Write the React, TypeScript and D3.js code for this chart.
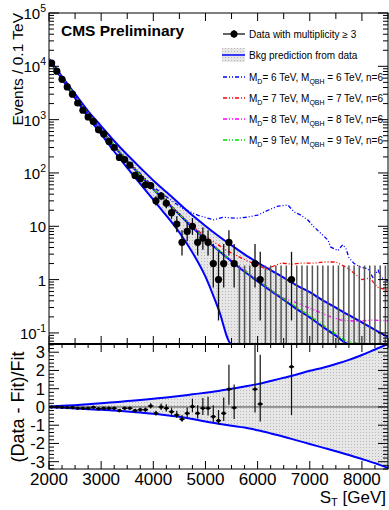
import React, { useEffect, useRef } from 'react';
import * as d3 from 'd3';

// one entry per 100 GeV bin, first bin 2000-2100
const binStart = 2000;
const binWidth = 100;
const counts = [
  11500, 8100, 5700, 4100, 3000, 2050, 1500, 1120, 920, 645,
  540, 390, 300, 195, 178, 140, 90, 78, 60, 58,
  30, 37, 27, 18, 11, 5, 8, 10, 5, 6,
  5, 2, 1, 2, 5, 2, 0, 0, 0, 2,
  1, 0, 0, 0, 0, 0, 1, 0, 0, 0,
  0, 0, 0, 0, 0, 0, 0, 0, 0, 0,
  0, 0, 0, 0, 0,
];

// (Data - Fit)/Fit
const ratioST = [
  2050, 2150, 2250, 2350, 2450, 2550, 2650, 2750, 2850, 2950,
  3050, 3150, 3250, 3350, 3450, 3550, 3650, 3750, 3850, 3950,
  4050, 4150, 4250, 4350, 4450, 4550, 4650, 4750, 4850, 4950,
  5050, 5150, 5250, 5350, 5450, 5550, 5950, 6050, 6650,
];
const ratioVal = [
  0.0, 0.0, -0.02, -0.03, -0.03, -0.07, -0.07, -0.07, -0.02, -0.1,
  -0.07, -0.07, -0.07, -0.2, -0.07, -0.07, -0.2, -0.15, -0.15, 0.05,
  -0.35, 0.0, -0.07, -0.26, -0.44, -0.67, -0.35, 0.02, -0.35, -0.07,
  -0.07, -0.53, -0.75, -0.35, 0.97, -0.04, 0.97, 0.16, 2.2,
];

// background fit and its relative uncertainty
const fitST = [
  2000, 2250, 2500, 2750, 3000, 3250, 3500, 3750, 4000, 4250,
  4500, 4750, 5000, 5250, 5500, 5750, 6000, 6250, 6500, 6750,
  7000, 7250, 7500, 7750, 8000, 8250, 8500,
];
const fitVal = [
  13490, 6030, 2754, 1259, 631, 316, 166, 91, 50, 28.8,
  16.6, 9.5, 5.7, 3.5, 2.2, 1.4, 0.93, 0.62, 0.42, 0.28,
  0.195, 0.13, 0.089, 0.06, 0.041, 0.0275, 0.0186,
];
const bandUp = [
  0.02, 0.06, 0.1, 0.15, 0.2, 0.26, 0.32, 0.38, 0.45, 0.52,
  0.6, 0.69, 0.78, 0.88, 1.0, 1.12, 1.25, 1.42, 1.6, 1.78,
  1.98, 2.15, 2.35, 2.58, 2.85, 3.15, 3.48,
];
const bandDown = [
  -0.02, -0.05, -0.08, -0.12, -0.15, -0.2, -0.25, -0.31, -0.37, -0.45,
  -0.54, -0.66, -0.8, -0.92, -1.03, -1.13, -1.28, -1.45, -1.63, -1.83,
  -2.03, -2.23, -2.43, -2.63, -2.85, -3.08, -3.35,
];

// signal + background curves
const md6ST = [2000, 2500, 3000, 3500, 4000, 4300, 4550, 4850, 5150, 5350, 5600, 5800, 6000, 6200, 6400, 6580, 6700, 6830, 6960, 7080, 7210, 7350, 7400, 7540, 7630, 7690, 7750, 7850, 7980, 8110, 8210, 8310, 8370, 8500];
const md6Val = [13500, 2820, 650, 175, 55, 33, 22, 16.2, 13.2, 14.8, 14.1, 14.8, 16.2, 20, 24, 25, 18.6, 16.2, 13.2, 9.8, 7.4, 5.5, 4.1, 3.5, 4.5, 3.9, 2.6, 2.0, 1.7, 1.6, 1.1, 1.5, 1.1, 0.95];
const md7ST = [2000, 2500, 3000, 3500, 4000, 4500, 5000, 5200, 5400, 5600, 5800, 6000, 6150, 6300, 6450, 6650, 6850, 7100, 7250, 7500, 7700, 7850, 8000, 8150, 8300, 8500];
const md7Val = [13500, 2800, 640, 170, 51, 17, 6.3, 4.8, 3.55, 2.8, 2.24, 1.9, 1.58, 1.78, 2.04, 1.95, 2.04, 2.04, 2.14, 2.14, 1.7, 1.32, 1.0, 1.07, 0.72, 0.63];
const md8ST = [2000, 2500, 3000, 3500, 4000, 4500, 5000, 5500, 6000, 6200, 6440, 6770, 7080, 7400, 7600, 7900, 8200, 8500];
const md8Val = [13500, 2780, 635, 168, 50, 16.8, 5.8, 2.3, 1.0, 0.71, 0.47, 0.36, 0.27, 0.2, 0.174, 0.166, 0.174, 0.17];
const md9ST = [2000, 2500, 3000, 3500, 4000, 4500, 5000, 5500, 6000, 6500, 7000, 7500, 7700, 8000, 8500];
const md9Val = [13500, 2770, 635, 167, 50, 16.7, 5.7, 2.25, 0.97, 0.44, 0.21, 0.095, 0.07, 0.045, 0.02];

const signalMD = [6, 7, 8, 9];
const xTickLabels = [2000, 3000, 4000, 5000, 6000, 7000, 8000];
const yTopExp = [-1, 0, 1, 2, 3, 4, 5];
const yBotTicks = [-3, -2, -1, 0, 1, 2, 3];

const FONT = "'Liberation Sans', Arial, Helvetica, sans-serif";

const poissonHi = (n: number) => n + 1 + Math.sqrt(n + 0.75);
const poissonLo = (n: number) =>
  n === 0 ? 0 : n * Math.pow(1 - 1 / (9 * n) - 1 / (3 * Math.sqrt(n)), 3);

const App = () => {
  const ref = useRef<SVGSVGElement>(null);

  useEffect(() => {
    const svg = d3.select(ref.current);
    svg.selectAll('*').remove();

    const L = 49, R = 388, T = 13, MID = 344, B = 469;

    const x = d3.scaleLinear().domain([2000, 8500]).range([L, R]);
    const yTop = d3.scaleLog().domain([0.062, 1e5]).range([MID, T]).clamp(true);
    const yBot = d3.scaleLinear().domain([-3.4, 3.45]).range([B, MID]).clamp(true);

    const defs = svg.append('defs');
    const pat = defs.append('pattern').attr('id', 'dots')
      .attr('width', 3).attr('height', 3).attr('patternUnits', 'userSpaceOnUse');
    pat.append('rect').attr('width', 3).attr('height', 3).attr('fill', '#e6e6e6');
    pat.append('rect').attr('width', 1).attr('height', 1).attr('fill', '#b8b8b8');
    defs.append('clipPath').attr('id', 'clipTop')
      .append('rect').attr('x', L).attr('y', T).attr('width', R - L).attr('height', MID - T);
    defs.append('clipPath').attr('id', 'clipBot')
      .append('rect').attr('x', L).attr('y', MID).attr('width', R - L).attr('height', B - MID);

    svg.append('rect').attr('width', 389).attr('height', 510).attr('fill', '#fff');

    // ---------- upper panel ----------
    const top = svg.append('g').attr('clip-path', 'url(#clipTop)');
    const fitPts = fitST.map((s, i) => ({
      s,
      f: fitVal[i],
      hi: fitVal[i] * (1 + bandUp[i]),
      lo: Math.max(fitVal[i] * (1 + bandDown[i]), 1e-6),
    }));

    top.append('path')
      .datum(fitPts)
      .attr('fill', 'url(#dots)')
      .attr('d', d3.area<any>().x(d => x(d.s)).y0(d => yTop(d.lo)).y1(d => yTop(d.hi)).curve(d3.curveMonotoneX));

    const blueLine = (acc: (d: any) => number) =>
      d3.line<any>().x(d => x(d.s)).y(d => yTop(acc(d))).curve(d3.curveMonotoneX);
    [d => d.hi, d => d.lo, d => d.f].forEach(acc => {
      top.append('path').datum(fitPts).attr('fill', 'none')
        .attr('stroke', '#0000ff').attr('stroke-width', 2).attr('d', blueLine(acc));
    });

    const signals = [
      { st: md6ST, val: md6Val, color: '#0000ff' },
      { st: md7ST, val: md7Val, color: '#ff0000' },
      { st: md8ST, val: md8Val, color: '#ff00ff' },
      { st: md9ST, val: md9Val, color: '#00dd00' },
    ];
    const dash = '4,2,1,2,1,2';
    signals.forEach(sg => {
      const pts = sg.st.map((s, i) => ({ s, v: sg.val[i] }));
      top.append('path').datum(pts).attr('fill', 'none')
        .attr('stroke', sg.color).attr('stroke-width', 1.3)
        .attr('stroke-dasharray', dash)
        .attr('d', d3.line<any>().x(d => x(d.s)).y(d => yTop(d.v)));
    });

    // data
    const data = counts.map((n, i) => ({ s: binStart + binWidth * (i + 0.5), n }));
    data.forEach(d => {
      const cx = x(d.s);
      if (d.n === 0) {
        top.append('line').attr('x1', cx).attr('x2', cx)
          .attr('y1', yTop(1e-6)).attr('y2', yTop(1.84))
          .attr('stroke', '#555').attr('stroke-width', 1.5);
        return;
      }
      top.append('line').attr('x1', cx).attr('x2', cx)
        .attr('y1', yTop(Math.max(poissonLo(d.n), 1e-6))).attr('y2', yTop(poissonHi(d.n)))
        .attr('stroke', '#111').attr('stroke-width', 1.3);
      top.append('line').attr('x1', x(d.s - 50)).attr('x2', x(d.s + 50))
        .attr('y1', yTop(d.n)).attr('y2', yTop(d.n))
        .attr('stroke', '#111').attr('stroke-width', 1.3);
      top.append('circle').attr('cx', cx).attr('cy', yTop(d.n)).attr('r', 3.6).attr('fill', '#000');
    });

    // ---------- lower panel ----------
    const bot = svg.append('g').attr('clip-path', 'url(#clipBot)');
    const bandPts = fitST.map((s, i) => ({ s, hi: bandUp[i], lo: bandDown[i] }));
    bot.append('path').datum(bandPts).attr('fill', 'url(#dots)')
      .attr('d', d3.area<any>().x(d => x(d.s)).y0(d => yBot(d.lo)).y1(d => yBot(d.hi)).curve(d3.curveMonotoneX));
    bot.append('line').attr('x1', L).attr('x2', R).attr('y1', yBot(0)).attr('y2', yBot(0))
      .attr('stroke', '#444').attr('stroke-width', 1);
    ['hi', 'lo'].forEach(k => {
      bot.append('path').datum(bandPts).attr('fill', 'none')
        .attr('stroke', '#0000ff').attr('stroke-width', 2)
        .attr('d', d3.line<any>().x(d => x(d.s)).y(d => yBot(d[k])).curve(d3.curveMonotoneX));
    });
    ratioST.forEach((s, i) => {
      const n = counts[Math.floor((s - binStart) / binWidth)];
      const r = ratioVal[i];
      const fit = n / (1 + r);
      const eHi = (poissonHi(n) - n) / fit;
      const eLo = (n - poissonLo(n)) / fit;
      const cx = x(s);
      bot.append('line').attr('x1', cx).attr('x2', cx)
        .attr('y1', yBot(r - eLo)).attr('y2', yBot(r + eHi))
        .attr('stroke', '#111').attr('stroke-width', 1.2);
      bot.append('line').attr('x1', x(s - 50)).attr('x2', x(s + 50))
        .attr('y1', yBot(r)).attr('y2', yBot(r))
        .attr('stroke', '#111').attr('stroke-width', 1.5);
      bot.append('circle').attr('cx', cx).attr('cy', yBot(r)).attr('r', 1.8).attr('fill', '#000');
    });

    // ---------- frames and ticks ----------
    const ax = svg.append('g').attr('stroke', '#000').attr('stroke-width', 1);
    const tick = (x1: number, y1: number, x2: number, y2: number) =>
      ax.append('line').attr('x1', x1).attr('y1', y1).attr('x2', x2).attr('y2', y2);

    // log y ticks
    for (let e = -2; e <= 5; e++) {
      for (let m = 1; m <= 9; m++) {
        const v = m * Math.pow(10, e);
        if (v < 0.062 || v > 1e5) continue;
        const len = m === 1 ? 10 : 5;
        const yy = yTop(v);
        tick(L, yy, L + len, yy);
        tick(R, yy, R - len, yy);
      }
    }
    // x ticks upper panel
    for (let s = 2000; s <= 8500; s += 500) {
      const xx = x(s);
      const len = s % 1000 === 0 ? 8 : 6;
      tick(xx, T, xx, T + len);
      tick(xx, MID, xx, MID - len);
    }
    // x ticks lower panel
    for (let s = 2000; s <= 8500; s += 250) {
      const xx = x(s);
      const len = s % 1000 === 0 ? 8 : 4;
      tick(xx, MID, xx, MID + len);
      tick(xx, B, xx, B - len);
    }
    // linear y ticks lower panel
    for (let v = -3.4; v <= 3.45; v += 0.2) {
      const rv = Math.round(v * 10) / 10;
      const major = Math.abs(rv - Math.round(rv)) < 1e-6;
      const len = major ? 10 : 5;
      const yy = yBot(rv);
      tick(L, yy, L + len, yy);
      tick(R, yy, R - len, yy);
    }

    svg.append('rect').attr('x', L).attr('y', T).attr('width', R - L).attr('height', MID - T)
      .attr('fill', 'none').attr('stroke', '#000').attr('stroke-width', 1);
    svg.append('rect').attr('x', L).attr('y', MID).attr('width', R - L).attr('height', B - MID)
      .attr('fill', 'none').attr('stroke', '#000').attr('stroke-width', 1);
    svg.append('line').attr('x1', L).attr('x2', R).attr('y1', MID).attr('y2', MID)
      .attr('stroke', '#000').attr('stroke-width', 1.8);

    // ---------- labels ----------
    const txt = svg.append('g').attr('font-family', FONT).attr('fill', '#000');

    yTopExp.forEach(e => {
      const t = txt.append('text').attr('x', 46).attr('y', yTop(Math.pow(10, e)) + 6)
        .attr('text-anchor', 'end').attr('font-size', 15);
      if (e === 0) t.text('1');
      else if (e === 1) t.text('10');
      else {
        t.append('tspan').text('10');
        t.append('tspan').attr('dy', -7).attr('font-size', 10.5).text(String(e));
      }
    });

    yBotTicks.forEach(v => {
      txt.append('text').attr('x', 45).attr('y', yBot(v) + 6)
        .attr('text-anchor', 'end').attr('font-size', 16.5).text(String(v));
    });

    xTickLabels.forEach(s => {
      txt.append('text').attr('x', x(s)).attr('y', 485)
        .attr('text-anchor', 'middle').attr('font-size', 17).text(String(s));
    });

    const st = txt.append('text').attr('x', 386).attr('y', 503)
      .attr('text-anchor', 'end').attr('font-size', 17);
    st.append('tspan').text('S');
    st.append('tspan').attr('dy', 3).attr('font-size', 11).text('T');
    st.append('tspan').attr('dy', -3).text(' [GeV]');

    txt.append('text').attr('transform', `translate(23,${T}) rotate(-90)`)
      .attr('text-anchor', 'end').attr('font-size', 15.5).text('Events / 0.1 TeV');
    txt.append('text').attr('transform', `translate(24,${yBot(0)}) rotate(-90)`)
      .attr('text-anchor', 'middle').attr('font-size', 18).text('(Data - Fit)/Fit');

    txt.append('text').attr('x', 61).attr('y', 36)
      .attr('font-size', 15.5).attr('font-weight', 'bold').text('CMS Preliminary');

    // ---------- legend ----------
    const lg = svg.append('g');
    const lx0 = 223, lx1 = 245, tx = 249;
    lg.append('line').attr('x1', lx0).attr('x2', lx1).attr('y1', 34).attr('y2', 34)
      .attr('stroke', '#111').attr('stroke-width', 1.3);
    lg.append('line').attr('x1', 234).attr('x2', 234).attr('y1', 30).attr('y2', 38)
      .attr('stroke', '#111').attr('stroke-width', 1.3);
    lg.append('circle').attr('cx', 234).attr('cy', 34).attr('r', 3.5).attr('fill', '#000');
    lg.append('text').attr('x', tx).attr('y', 37.5).attr('font-family', FONT).attr('font-size', 10)
      .text('Data with multiplicity \u2265 3');

    lg.append('rect').attr('x', 222).attr('y', 48).attr('width', 23).attr('height', 14)
      .attr('fill', 'url(#dots)');
    lg.append('line').attr('x1', 222).attr('x2', 245).attr('y1', 55).attr('y2', 55)
      .attr('stroke', '#0000ff').attr('stroke-width', 1.5);
    lg.append('text').attr('x', tx).attr('y', 58.5).attr('font-family', FONT).attr('font-size', 10)
      .text('Bkg prediction from data');

    signalMD.forEach((md, i) => {
      const yy = 77 + i * 21;
      lg.append('line').attr('x1', lx0).attr('x2', lx1).attr('y1', yy).attr('y2', yy)
        .attr('stroke', signals[i].color).attr('stroke-width', 1.3).attr('stroke-dasharray', dash);
      const t = lg.append('text').attr('x', tx).attr('y', yy + 3.5)
        .attr('font-family', FONT).attr('font-size', 10);
      t.append('tspan').text('M');
      t.append('tspan').attr('dy', 3).attr('font-size', 7).text('D');
      t.append('tspan').attr('dy', -3).text(`= ${md} TeV, M`);
      t.append('tspan').attr('dy', 3).attr('font-size', 7).text('QBH');
      t.append('tspan').attr('dy', -3).text(` = ${md} TeV, n=6`);
    });
  }, []);

  return (
    <svg ref={ref} width={389} height={510}
      style={{ position: 'absolute', left: 0, top: 0, display: 'block' }} />
  );
};

export default App;
